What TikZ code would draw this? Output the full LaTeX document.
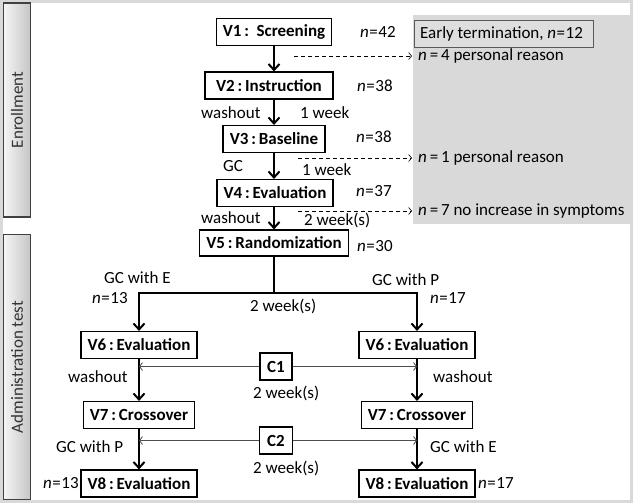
\documentclass[tikz,border=0pt]{standalone}
\usepackage{fontspec}
\setmainfont{Carlito}
\usetikzlibrary{arrows.meta}
\newcommand{\nn}{\textit{n}\kern0.5pt=\kern0.5pt}
\newcommand{\ns}{\textit{n}\,=\,}
\begin{document}
\begin{tikzpicture}[x=1pt,y=-1pt,
  every node/.style={font=\fontsize{17}{19}\selectfont, inner sep=0pt},
  visit/.style={draw=black, line width=1.1pt, fill=white, font=\fontsize{17}{19}\selectfont\bfseries, minimum height=27pt},
  lbl/.style={anchor=west},
  side/.style={draw=black!75, line width=1.2pt, left color=gray!8, right color=gray!45, minimum width=27pt},
  mainarrow/.style={line width=2pt, -{Straight Barb[length=6pt,width=11pt]}},
  mainline/.style={line width=2pt},
  dasharrow/.style={dash pattern=on 4pt off 3pt, line width=0.6pt, -{Straight Barb[length=3pt,width=7pt]}},
  carrow/.style={draw=black!70, line width=0.8pt, -{Straight Barb[length=3pt,width=8pt]}}
]
\useasboundingbox (0,0) rectangle (633,503);
\fill[white] (0,0) rectangle (633,503);
\draw[gray!30, line width=3pt] (1.5,1.5) rectangle (631.5,501.5);

% side bars
\node[side, minimum height=214pt] (enr) at (17,110) {};
\node[rotate=90, text=black!80] (enrt) at (enr.center) {Enrollment};
\node[side, minimum height=265pt] (adm) at (17,367) {};
\node[rotate=90, text=black!80] (admt) at (adm.center) {Administration test};

% early termination area
\fill[black!15] (413,15) rectangle (630,224);
\node[draw=black!65, line width=1pt, fill=black!13, minimum width=179pt, minimum height=27pt, anchor=north west] (et) at (414,20) {};
\node[lbl] (ett) at (420,34) {Early termination, \nn12};
\node[lbl] (r1) at (418,56) {\ns4 personal reason};
\node[lbl] (r2) at (418,158) {\ns1 personal reason};
\node[lbl] (r3) at (418,211) {\ns7 no increase in symptoms};

% visits
\node[visit, minimum width=115pt] (v1) at (274,32) {V1\,:\ \ Screening};
\node[visit, minimum width=128pt] (v2) at (269,85.5) {V2\,:\,Instruction};
\node[visit, minimum width=102pt] (v3) at (274,139) {V3\,:\,Baseline};
\node[visit, minimum width=116pt] (v4) at (275,193) {V4\,:\,Evaluation};
\node[visit, minimum width=149pt, minimum height=26pt] (v5) at (274,243) {V5\,:\,Randomization};
\node[visit, minimum width=116pt] (v6l) at (139,345) {V6\,:\,Evaluation};
\node[visit, minimum width=116pt] (v6r) at (417,345) {V6\,:\,Evaluation};
\node[visit, minimum width=111pt] (v7l) at (139,415) {V7\,:\,Crossover};
\node[visit, minimum width=111pt] (v7r) at (417,415) {V7\,:\,Crossover};
\node[visit, minimum width=116pt] (v8l) at (139,483.5) {V8\,:\,Evaluation};
\node[visit, minimum width=116pt] (v8r) at (417,483.5) {V8\,:\,Evaluation};
\node[visit, minimum width=32pt] (c1) at (276,366.5) {C1};
\node[visit, minimum width=33pt] (c2) at (276,440.5) {C2};

% n labels
\node[lbl] (n1) at (360,32) {\nn42};
\node[lbl] (n2) at (357,86) {\nn38};
\node[lbl] (n3) at (356,137) {\nn38};
\node[lbl] (n4) at (356,191) {\nn37};
\node[lbl] (n5) at (357,246) {\nn30};
\node[lbl] (n6) at (92,298) {\nn13};
\node[lbl] (n7) at (430,298) {\nn17};
\node[lbl] (n8) at (43,483) {\nn13};
\node[lbl] (n9) at (478,483) {\nn17};

% other labels
\node[lbl] (w1) at (201,113) {washout};
\node[lbl] (wk1) at (300,113) {1 week};
\node[lbl] (gc) at (223,166) {GC};
\node[lbl] (wk2) at (302,170) {1 week};
\node[lbl] (w2) at (201,218) {washout};
\node[lbl] (wk3) at (304,220) {2 week(s)};
\node[lbl] (ge1) at (104,278) {GC with E};
\node[lbl] (gp1) at (372,280) {GC with P};
\node[lbl] (wk4) at (250,306) {2 week(s)};
\node[lbl] (w3) at (68,377) {washout};
\node[lbl] (w4) at (433,377) {washout};
\node[lbl] (wk5) at (253,393) {2 week(s)};
\node[lbl] (gp2) at (56,447) {GC with P};
\node[lbl] (ge2) at (430,447) {GC with E};
\node[lbl] (wk6) at (253,468) {2 week(s)};

% main arrows
\draw[mainarrow] (v1.south) -- (v1.south |- v2.north);
\draw[mainarrow] (v1.south |- v2.south) -- (v1.south |- v3.north);
\draw[mainarrow] (v3.south) -- (v3.south |- v4.north);
\draw[mainarrow] (v3.south |- v4.south) -- (v3.south |- v5.north);
\coordinate (sp) at (274,293);
\draw[mainline] (v5.south) -- (sp);
\draw[mainarrow] (sp) -| (v6l.north);
\draw[mainarrow] (sp) -| (v6r.north);
\draw[mainarrow] (v6l.south) -- (v6l.south |- v7l.north);
\draw[mainarrow] (v6l.south |- v7l.south) -- (v6l.south |- v8l.north);
\draw[mainarrow] (v6r.south) -- (v6r.south |- v7r.north);
\draw[mainarrow] (v6r.south |- v7r.south) -- (v6r.south |- v8r.north);

% C arrows
\draw[carrow] (c1.west) -- (c1.west -| v6l.south);
\draw[carrow] (c1.east) -- (c1.east -| v6r.south);
\draw[carrow] (c2.west) -- (c2.west -| v6l.south);
\draw[carrow] (c2.east) -- (c2.east -| v6r.south);

% dashed arrows
\coordinate (d1) at (294,56);
\coordinate (d2) at (298,158);
\coordinate (d3) at (298,211);
\draw[dasharrow] (d1) -- ([xshift=-6pt]r1.west);
\draw[dasharrow] (d2) -- ([xshift=-6pt]r2.west);
\draw[dasharrow] (d3) -- ([xshift=-6pt]r3.west);
\end{tikzpicture}
\end{document}
